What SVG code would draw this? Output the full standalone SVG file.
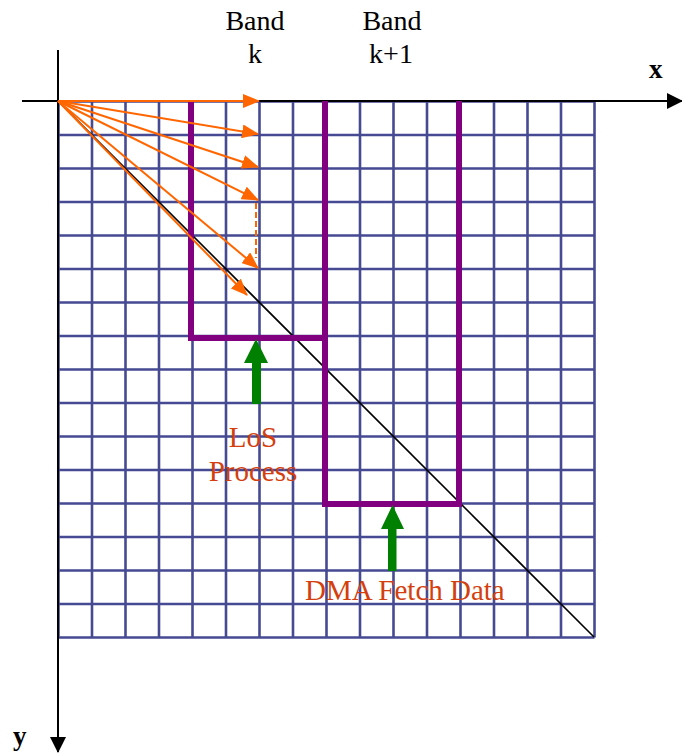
<svg xmlns="http://www.w3.org/2000/svg" width="682" height="753" viewBox="0 0 682 753">
<style>
.grid{stroke:#464A92;stroke-width:2.6;fill:none}
.band{stroke:#800080;stroke-width:6;fill:none;stroke-linejoin:miter}
.ray{stroke:#FF6600;stroke-width:2;fill:none;marker-end:url(#ah-o)}
.axis{stroke:#000;stroke-width:2;fill:none;marker-end:url(#ah-k)}
.lbl{font-family:"Liberation Serif","Times New Roman",serif;font-size:28px;fill:#000;text-anchor:middle}
.note{font-family:"Liberation Serif","Times New Roman",serif;font-size:29px;fill:#D43F0F}
.ax{font-family:"Liberation Serif","Times New Roman",serif;font-size:27px;font-weight:bold;fill:#000}
.green{fill:#008000}
</style>
<defs>
<marker id="ah-o" markerUnits="userSpaceOnUse" markerWidth="17" markerHeight="14" refX="16" refY="7" orient="auto"><path d="M0,0 L17,7 L0,14 Z" fill="#FF6600"/></marker>
<marker id="ah-k" markerUnits="userSpaceOnUse" markerWidth="16" markerHeight="16" refX="15" refY="8" orient="auto"><path d="M0,0 L16,8 L0,16 Z" fill="#000"/></marker>
</defs>
<g id="grid">
<path class="grid" d="M58.5,101.5V637.5M92,101.5V637.5M125.5,101.5V637.5M159,101.5V637.5M192.5,101.5V637.5M226,101.5V637.5M259.5,101.5V637.5M293,101.5V637.5M326.5,101.5V637.5M360,101.5V637.5M393.5,101.5V637.5M427,101.5V637.5M460.5,101.5V637.5M494,101.5V637.5M527.5,101.5V637.5M561,101.5V637.5M594.5,101.5V637.5"/>
<path class="grid" d="M58.5,101.5H594.5M58.5,135H594.5M58.5,168.5H594.5M58.5,202H594.5M58.5,235.5H594.5M58.5,269H594.5M58.5,302.5H594.5M58.5,336H594.5M58.5,369.5H594.5M58.5,403H594.5M58.5,436.5H594.5M58.5,470H594.5M58.5,503.5H594.5M58.5,537H594.5M58.5,570.5H594.5M58.5,604H594.5M58.5,637.5H594.5"/>
</g>
<g id="axes">
<line class="axis" x1="22" y1="101" x2="682" y2="101"/>
<line class="axis" x1="58" y1="50" x2="58" y2="752"/>
</g>
<g id="diagonal">
<line x1="58" y1="101" x2="594" y2="637" stroke="#000" stroke-width="1.6"/>
</g>
<g id="band-k">
<path class="band" d="M191,101V338H327"/>
</g>
<g id="band-k1">
<path class="band" d="M325,101V504H459V101"/>
</g>
<g id="rays">
<line class="ray" x1="58" y1="101" x2="259" y2="101"/>
<line class="ray" x1="58" y1="101" x2="258" y2="134"/>
<line class="ray" x1="58" y1="101" x2="258" y2="167"/>
<line class="ray" x1="58" y1="101" x2="258" y2="200"/>
<line class="ray" x1="58" y1="101" x2="258" y2="268"/>
<line class="ray" x1="58" y1="101" x2="247" y2="295"/>
<line x1="256" y1="203" x2="256" y2="258" stroke="#FF6600" stroke-width="2" stroke-dasharray="6,3"/>
</g>
<g id="los-arrow">
<rect class="green" x="252" y="360" width="9" height="44"/>
<polygon class="green" points="244,363 256,339 268,363"/>
</g>
<g id="dma-arrow">
<rect class="green" x="388" y="526" width="8.5" height="45"/>
<polygon class="green" points="381,529 392.5,505 404,529"/>
</g>
<g id="labels">
<text class="lbl" x="255" y="30">Band</text>
<text class="lbl" x="255" y="63">k</text>
<text class="lbl" x="392" y="30">Band</text>
<text class="lbl" x="391" y="63">k+1</text>
<text class="ax" x="649" y="78">x</text>
<text class="ax" x="13" y="745">y</text>
<text class="note" x="253" y="447" text-anchor="middle">LoS</text>
<text class="note" x="253" y="481" text-anchor="middle">Process</text>
<text class="note" x="305" y="600">DMA Fetch Data</text>
</g>
</svg>
